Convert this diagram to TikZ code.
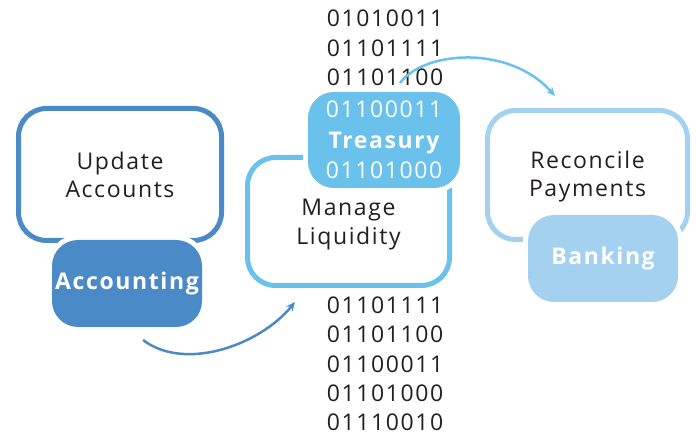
\documentclass[tikz,border=0pt]{standalone}
\usepackage{fontspec}
\setmainfont{Open Sans}[LetterSpace=7]
\usetikzlibrary{arrows.meta}
\definecolor{dblue}{HTML}{4A8AC7}
\definecolor{mblue}{HTML}{6AC1EC}
\definecolor{lblue}{HTML}{A3D1EF}
\definecolor{ink}{HTML}{231F20}
\tikzset{
  outline/.style={draw=#1, line width=5pt, rounded corners=28pt, fill=white,
    text=ink, align=center, inner sep=0pt, font=\fontsize{23}{28}\selectfont},
  tag/.style={fill=#1, rounded corners=26pt, inner sep=0pt, text=white,
    align=center, preaction={draw=white, line width=10pt},
    font=\fontsize{23}{30.5}\selectfont\bfseries},
  bits/.style={text=ink, align=center, inner sep=0pt, font=\fontsize{23}{29.3}\selectfont},
  flow/.style={draw=#1, line width=2.5pt, -{Stealth[length=9pt,width=8pt]}}
}
\begin{document}
\begin{tikzpicture}[x=1pt,y=-1pt]
\useasboundingbox (0,0) rectangle (696,435);
% Update Accounts / Accounting
\node[outline=dblue, minimum width=203pt, minimum height=132pt] (upd) at (120,174.5) {Update\\Accounts};
\node[tag=dblue, minimum width=150pt, minimum height=87pt] (acc) at (127,283.5) {Accounting};
% Manage Liquidity / Treasury
\node[outline=mblue, minimum width=202pt, minimum height=128pt] (man) at (348.5,221.5) {};
\node[text=ink, align=center, inner sep=0pt, font=\fontsize{23}{29.5}\selectfont] (mantxt) at (man.center) [yshift=-3pt] {Manage\\Liquidity};
\node[tag=mblue, minimum width=152pt, minimum height=96pt] (tre) at (384,140)
  {\mdseries 01100011\\Treasury\\\mdseries 01101000};
% Reconcile Payments / Banking
\node[outline=lblue, minimum width=200pt, minimum height=129pt] (rec) at (587.5,175) {};
\node[text=ink, align=center, inner sep=0pt, font=\fontsize{23}{28}\selectfont] (rectxt) at (rec.center) [yshift=-1.5pt] {Reconcile\\Payments};
\node[tag=lblue, minimum width=150pt, minimum height=87pt] (ban) at (603,258.5) {Banking};
% binary columns
\node[bits] (btop) at (385,48) {01010011\\01101111\\01101100};
\node[bits] (bbot) at (385,364) {01101111\\01101100\\01100011\\01101000\\01110010};
% arrows
\coordinate (a1s) at (143,340);
\coordinate (a1e) at (295,302);
\coordinate (a2s) at (400,83);
\coordinate (a2e) at (555,96);
\draw[flow=dblue] (a1s) .. controls (185,372) and (260,345) .. (a1e);
\draw[flow=mblue] (a2s) .. controls (425,50) and (510,45) .. (a2e);
\end{tikzpicture}
\end{document}
